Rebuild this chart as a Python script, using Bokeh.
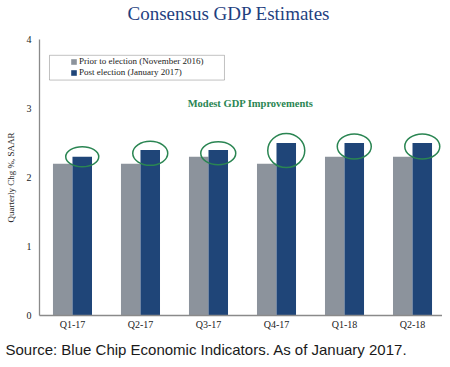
import numpy as np
from bokeh.plotting import figure
from bokeh.models import (ColumnDataSource, Range1d, FixedTicker, Label, BoxAnnotation,
                          Legend, LegendItem, Title)
from bokeh.embed import file_html
from bokeh.resources import INLINE

# ---- data ----
quarters = ["Q1-17", "Q2-17", "Q3-17", "Q4-17", "Q1-18", "Q2-18"]
prior_election = [2.2, 2.2, 2.3, 2.2, 2.3, 2.3]
post_election = [2.3, 2.4, 2.4, 2.5, 2.5, 2.5]
y_ticks = [0, 1, 2, 3, 4]
series_names = ["Prior to election (November 2016)", "Post election (January 2017)"]

GRAY = "#8c939c"
BLUE = "#1f4578"
GREEN = "#2a8552"
SERIF = "Liberation Serif"

xpos = np.arange(len(quarters))
bw = 0.287
src = ColumnDataSource(dict(
    x_prior=xpos - bw / 2, x_post=xpos + bw / 2,
    prior=prior_election, post=post_election,
    ell_y=np.array(post_election) + np.array([0.0, -0.05, -0.05, -0.11, -0.05, -0.05]),
    ell_w=[33, 35, 35, 37, 34, 35], ell_h=[20, 24, 23, 34, 25, 25],
))

p = figure(width=442, height=363, output_backend="svg", toolbar_location=None,
           x_range=Range1d(-0.485, 5.441), y_range=Range1d(0, 4),
           min_border_left=39, min_border_right=0, min_border_top=37, min_border_bottom=47)
p.outline_line_color = None
p.xgrid.visible = False
p.ygrid.visible = False

# spacer panel between frame and title (keeps title near the top edge)
p.add_layout(Title(text=" ", text_font_size="1px", standoff=13), "above")
p.title = Title(text="Consensus GDP Estimates", align="left", offset=88, text_font=SERIF,
                text_font_size="19px", text_font_style="normal", text_color="#1f3f7f",
                vertical_align="bottom", standoff=0)
p.add_layout(Title(text="Source: Blue Chip Economic Indicators. As of January 2017.",
                   align="left", text_font="Liberation Sans", text_font_size="15px",
                   text_font_style="normal", text_color="#1a1a1a", standoff=12, offset=-34,
                   vertical_align="bottom"),
             "below")

r1 = p.vbar(x="x_prior", top="prior", width=bw, source=src, color=GRAY, line_color=None)
r2 = p.vbar(x="x_post", top="post", width=bw, source=src, color=BLUE, line_color=None)
p.ellipse(x="x_post", y="ell_y", width="ell_w", height="ell_h", width_units="screen",
          height_units="screen", source=src, fill_color=None, line_color=GREEN, line_width=1.5)

# axes
p.xaxis.ticker = FixedTicker(ticks=list(xpos))
p.xaxis.major_label_overrides = {int(i): q for i, q in zip(xpos, quarters)}
p.yaxis.ticker = FixedTicker(ticks=y_ticks)
for ax in (p.xaxis[0], p.yaxis[0]):
    ax.axis_line_color = "#8a8a8a"
    ax.axis_line_width = 1.3
    ax.major_tick_line_color = None
    ax.minor_tick_line_color = None
    ax.major_tick_out = 0
    ax.major_tick_in = 0
    ax.major_label_text_font = SERIF
    ax.major_label_text_font_size = "10px"
    ax.major_label_text_color = "#222222"
p.xaxis.major_label_standoff = 3
p.yaxis.major_label_standoff = 8
p.yaxis.axis_label = "Quarterly Chg %, SAAR"
p.yaxis.axis_label_text_font = SERIF
p.yaxis.axis_label_text_font_style = "normal"
p.yaxis.axis_label_text_font_size = "9px"
p.yaxis.axis_label_text_color = "#222222"
p.yaxis.axis_label_standoff = 8

# legend box + legend
box = BoxAnnotation(left=-0.338, right=2.235, top=3.771, bottom=3.412,
                    fill_color="white", fill_alpha=1, line_color="#333333", line_width=1)
p.add_layout(box)
legend = Legend(items=[LegendItem(label=series_names[0], renderers=[r1]),
                       LegendItem(label=series_names[1], renderers=[r2])],
                location=(29, 236), margin=0, padding=2, spacing=1,
                glyph_width=7, glyph_height=7, label_standoff=2, label_height=10,
                label_text_font=SERIF, label_text_font_size="9px", label_text_color="#222222",
                border_line_alpha=0, background_fill_alpha=0)
p.add_layout(legend)

p.add_layout(Label(x=2.618, y=3.068, text="Modest GDP Improvements", text_font=SERIF,
                   text_font_size="10.5px", text_font_style="bold", text_color=GREEN,
                   text_align="center", text_baseline="middle"))

open("out.html", "w").write(file_html(p, INLINE))
